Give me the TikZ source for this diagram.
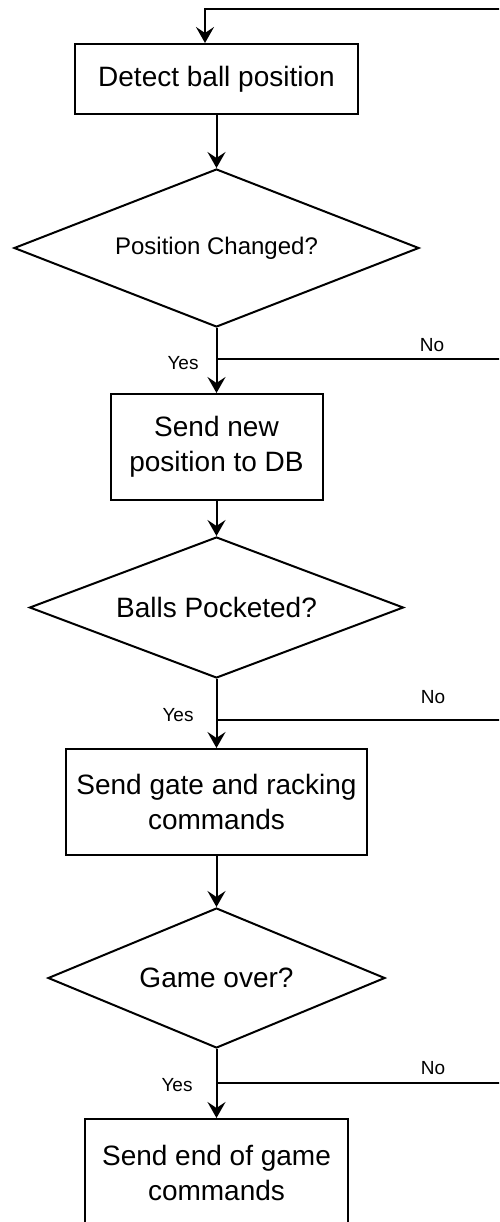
\documentclass[tikz,border=0pt]{standalone}
\usepackage{fontspec}
\setmainfont{Liberation Sans}
\usetikzlibrary{shapes.geometric,arrows.meta}
\begin{document}
\begin{tikzpicture}[x=0.5pt,y=-0.5pt,line width=1pt,
        procbox/.style={draw,rectangle,align=center,inner sep=0pt,font=\fontsize{14}{17.5}\selectfont},
        decbox/.style={draw,diamond,aspect=2.5,inner sep=0pt,font=\fontsize{14}{17}\selectfont},
        flow/.style={-{Stealth[length=8pt,width=9pt,inset=3pt]}},
        lbl/.style={font=\fontsize{9.5}{11}\selectfont}]
            \useasboundingbox (0,0) rectangle (499,1222);
            \clip (0,0) rectangle (499,1222);

            \node [procbox, minimum width=141.5pt, minimum height=35pt] (detect) at (216.5,79) {Detect ball position};
            \node [decbox, minimum width=202.5pt, minimum height=79pt, font=\fontsize{12}{14}\selectfont] (changed) at (216.5,248) {Position Changed?};
            \node [procbox, minimum width=106pt, minimum height=53pt] (newpos) at (216.5,447) {Send new\\position to DB};
            \node [decbox, minimum width=187pt, minimum height=70.5pt] (pocketed) at (216.5,607.5) {Balls Pocketed?};
            \node [procbox, minimum width=150.5pt, minimum height=53pt] (racking) at (216.5,802) {Send gate and racking\\commands};
            \node [decbox, minimum width=168.5pt, minimum height=70pt] (over) at (216.5,978) {Game over?};
            \node [procbox, minimum width=131.5pt, minimum height=54pt] (endgame) at (216.5,1173) {Send end of game\\commands};

            \coordinate (back) at (505,9);
            \coordinate (bend) at (205,9);
            \coordinate (j1) at (216.5,359);
            \coordinate (j2) at (216.5,720);
            \coordinate (j3) at (216.5,1083);
            \coordinate (n1) at (505,359);
            \coordinate (n2) at (505,720);
            \coordinate (n3) at (505,1083);

            \draw [flow] (back) -- (bend) -- (bend |- detect.north);
            \draw [flow] (detect) -- (changed);
            \draw (changed) -- (j1);
            \draw [flow] (j1) -- (newpos);
            \draw (j1) -- (n1);
            \draw [flow] (newpos) -- (pocketed);
            \draw (pocketed) -- (j2);
            \draw [flow] (j2) -- (racking);
            \draw (j2) -- (n2);
            \draw [flow] (racking) -- (over);
            \draw (over) -- (j3);
            \draw [flow] (j3) -- (endgame);
            \draw (j3) -- (n3);

            \node [lbl] (yes1) at (183,363) {Yes};
            \node [lbl] (no1) at (432,345) {No};
            \node [lbl] (yes2) at (178,715) {Yes};
            \node [lbl] (no2) at (433,697) {No};
            \node [lbl] (yes3) at (177,1085) {Yes};
            \node [lbl] (no3) at (433,1068) {No};
        \end{tikzpicture}
\end{document}
